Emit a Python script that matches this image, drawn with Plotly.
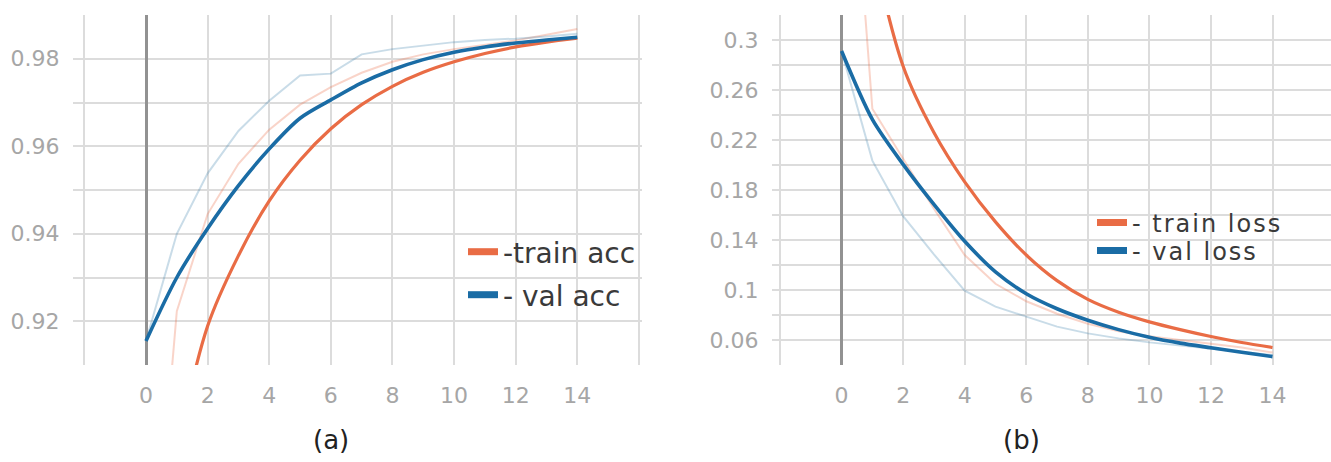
import plotly.graph_objects as go

# ---------------- data ----------------
epochs = list(range(15))

train_acc_raw = [0.840, 0.9223, 0.9445, 0.9560, 0.9638, 0.9695, 0.9735, 0.9768, 0.9793,
                 0.9810, 0.9822, 0.9832, 0.9842, 0.9855, 0.9868]
train_acc_smooth = [0.840, 0.890, 0.9189, 0.9350, 0.9475, 0.9568, 0.9640, 0.9695, 0.9737,
                    0.9769, 0.9793, 0.9812, 0.9827, 0.9838, 0.9847]
val_acc_raw = [0.9155, 0.940, 0.9538, 0.9635, 0.9704, 0.9762, 0.9766, 0.981, 0.9822,
               0.983, 0.9838, 0.9843, 0.9846, 0.9851, 0.9857]
val_acc_smooth = [0.9155, 0.9300, 0.9412, 0.9510, 0.9594, 0.9664, 0.9706, 0.9745, 0.9775,
                  0.9798, 0.9815, 0.9827, 0.9836, 0.9843, 0.9849]

train_loss_raw = [0.570, 0.245, 0.205, 0.165, 0.128, 0.105, 0.091, 0.081, 0.073,
                  0.067, 0.063, 0.060, 0.0573, 0.054, 0.050]
train_loss_smooth = [0.570, 0.377, 0.279, 0.226, 0.1865, 0.1545, 0.128, 0.1075, 0.0925,
                     0.0822, 0.0745, 0.0683, 0.0628, 0.058, 0.054]
val_loss_raw = [0.2912, 0.2035, 0.159, 0.1285, 0.0995, 0.0867, 0.0787, 0.0707, 0.0653,
                0.0613, 0.0581, 0.0555, 0.0533, 0.0505, 0.048]
val_loss_smooth = [0.2912, 0.2365, 0.2005, 0.1685, 0.1390, 0.1145, 0.0970, 0.0850, 0.0758,
                   0.0683, 0.0622, 0.0575, 0.0538, 0.0502, 0.0467]

x_grid = [-2, 0, 2, 4, 6, 8, 10, 12, 14, 16]
x_text = ["", "0", "2", "4", "6", "8", "10", "12", "14", ""]
acc_grid = [0.91, 0.92, 0.93, 0.94, 0.95, 0.96, 0.97, 0.98, 0.99]
acc_text = ["", "0.92", "", "0.94", "", "0.96", "", "0.98", ""]
loss_grid = [0.04, 0.06, 0.08, 0.10, 0.12, 0.14, 0.16, 0.18, 0.20, 0.22, 0.24, 0.26, 0.28, 0.30, 0.32]
loss_text = ["", "0.06", "", "0.1", "", "0.14", "", "0.18", "", "0.22", "", "0.26", "", "0.3", ""]

legend_names = ["-train acc", "- val acc", "- train loss", "- val loss"]
panel_labels = ["(a)", "(b)"]

# ---------------- style ----------------
ORANGE = "#E96C45"
BLUE = "#1A6CA5"
ORANGE_L = "rgba(236,112,75,0.30)"
BLUE_L = "rgba(40,115,165,0.25)"
GRID = "#DCDCDC"
TICKC = "#A6A6A6"

fig = go.Figure()

def add_line(x, y, color, width, xa, ya, shape):
    fig.add_trace(go.Scatter(x=x, y=y, mode="lines",
                             line=dict(color=color, width=width, shape=shape, smoothing=0.8),
                             xaxis=xa, yaxis=ya, showlegend=False, hoverinfo="skip"))

# panel (a)
add_line(epochs, train_acc_raw, ORANGE_L, 2, "x", "y", "linear")
add_line(epochs, val_acc_raw, BLUE_L, 2, "x", "y", "linear")
add_line(epochs, train_acc_smooth, ORANGE, 3.2, "x", "y", "spline")
add_line(epochs, val_acc_smooth, BLUE, 3.6, "x", "y", "spline")
# panel (b)
add_line(epochs, train_loss_raw, ORANGE_L, 2, "x2", "y2", "linear")
add_line(epochs, val_loss_raw, BLUE_L, 2, "x2", "y2", "linear")
add_line(epochs, train_loss_smooth, ORANGE, 3.2, "x2", "y2", "spline")
add_line(epochs, val_loss_smooth, BLUE, 3.6, "x2", "y2", "spline")

# legend entries (one legend per entry so rows can be placed individually)
leg_ids = ["legend", "legend2", "legend3", "legend4"]
leg_colors = [ORANGE, BLUE, ORANGE, BLUE]
leg_axes = [("x", "y"), ("x", "y"), ("x2", "y2"), ("x2", "y2")]
leg_spacing = [0, 0, 2, 2]
for name, lid, col, (xa, ya), ls in zip(legend_names, leg_ids, leg_colors, leg_axes, leg_spacing):
    label = name if ls == 0 else '<span style="letter-spacing:%dpx">%s</span>' % (ls, name)
    fig.add_trace(go.Scatter(x=[None], y=[None], mode="lines", name=label,
                             line=dict(color=col, width=7), xaxis=xa, yaxis=ya,
                             legend=lid, showlegend=True))

W, H = 1331, 462
def px_x(p):
    return p / W
def px_y(p):
    return 1 - p / H

ydom = [px_y(365), px_y(15)]
tickfont = dict(family="DejaVu Sans", size=22, color=TICKC)

xcommon = dict(tickmode="array", tickvals=x_grid, ticktext=x_text, showgrid=True,
               gridcolor=GRID, gridwidth=1.5, zeroline=True, zerolinecolor="#929292",
               zerolinewidth=2.5, showline=False, ticks="outside", ticklen=11,
               tickcolor="rgba(0,0,0,0)", tickfont=tickfont, automargin=False,
               fixedrange=True)
ycommon = dict(tickmode="array", showgrid=True, gridcolor=GRID, gridwidth=1.5,
               zeroline=False, showline=False, ticks="outside", ticklen=8,
               tickcolor="rgba(0,0,0,0)", tickfont=tickfont, automargin=False,
               fixedrange=True)

def leg(xp, yp, size):
    return dict(x=px_x(xp), y=px_y(yp), xanchor="left", yanchor="middle",
                bgcolor="rgba(0,0,0,0)", borderwidth=0,
                font=dict(family="DejaVu Sans", size=size, color="#3A3A3A"),
                itemwidth=30, tracegroupgap=0)

fig.update_layout(
    width=W, height=H,
    margin=dict(l=0, r=0, t=0, b=0),
    paper_bgcolor="white", plot_bgcolor="white",
    xaxis=dict(domain=[px_x(73), px_x(642)], range=[-2.37, 16.1], anchor="y", **xcommon),
    yaxis=dict(domain=ydom, range=[0.91, 0.99], tickvals=acc_grid, ticktext=acc_text,
               anchor="x", **ycommon),
    xaxis2=dict(domain=[px_x(772), 1.0], range=[-2.26, 15.9], anchor="y2", **xcommon),
    yaxis2=dict(domain=ydom, range=[0.04, 0.32], tickvals=loss_grid, ticktext=loss_text,
                anchor="x2", **ycommon),
    legend=leg(463, 252, 28),
    legend2=leg(463, 295, 28),
    legend3=leg(1092, 223, 24),
    legend4=leg(1092, 251, 24),
    showlegend=True,
)

for lab, xp in zip(panel_labels, [331, 1021]):
    fig.add_annotation(text=lab, x=px_x(xp), y=px_y(440), xref="paper", yref="paper",
                       xanchor="center", yanchor="middle", showarrow=False,
                       font=dict(family="DejaVu Sans", size=26, color="#222222"))

fig.write_html("out.html", config={"displayModeBar": False},
               post_script="document.body.style.margin='0px';")
